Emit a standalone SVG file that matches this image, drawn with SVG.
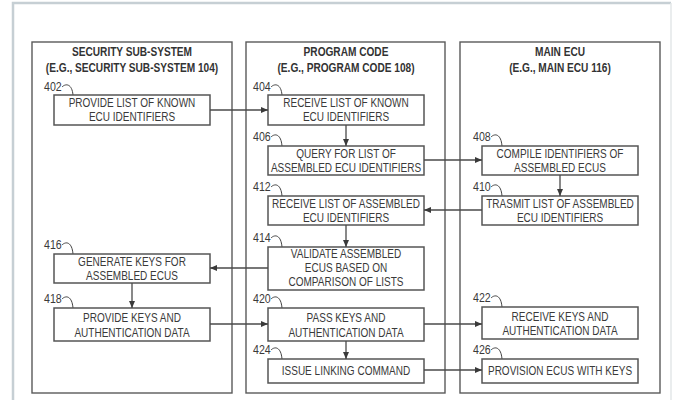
<svg xmlns="http://www.w3.org/2000/svg" width="676" height="400" viewBox="0 0 676 400">
  <style>
    .frame { fill: none; stroke: #c6cfd4; stroke-width: 2.5; }
    .frame-r { fill: none; stroke: #e3e7e9; stroke-width: 1.5; }
    .lane { fill: none; stroke: #5a5a5a; stroke-width: 1.4; }
    .box { fill: #ffffff; stroke: #555555; stroke-width: 1.5; }
    .title { font-family: "Liberation Sans", Arial, sans-serif; font-weight: bold; font-size: 12.5px; fill: #333333; text-anchor: middle; }
    .txt { font-family: "Liberation Sans", Arial, sans-serif; font-size: 12px; fill: #3a3a3a; text-anchor: middle; }
    .num { font-family: "Liberation Sans", Arial, sans-serif; font-size: 12.5px; fill: #3a3a3a; }
    .lead { fill: none; stroke: #444444; stroke-width: 1; }
    .conn { fill: none; stroke: #4a4a4a; stroke-width: 1.3; marker-end: url(#arr); }
  </style>
  <defs>
    <marker id="arr" markerWidth="7" markerHeight="6" refX="7" refY="3" orient="auto" markerUnits="userSpaceOnUse">
      <path d="M0,0 L7,3 L0,6 Z" fill="#3a3a3a"/>
    </marker>
  </defs>

  <rect width="676" height="400" fill="#ffffff"/>
  <!-- page border -->
  <path class="frame" d="M13,400 V3 H671"/>
  <path class="frame-r" d="M671,3 V400"/>

  <!-- swim lanes (condensed lettering via horizontal scale) -->
  <g id="lane-security">
    <rect class="lane" x="32" y="42" width="200" height="351"/>
    <g transform="translate(132 0) scale(.81 1)">
      <text class="title" x="0" y="56">SECURITY SUB-SYSTEM</text>
      <text class="title" x="0" y="72">(E.G., SECURITY SUB-SYSTEM 104)</text>
    </g>
  </g>
  <g id="lane-program">
    <rect class="lane" x="246" y="42" width="199" height="351"/>
    <g transform="translate(346 0) scale(.81 1)">
      <text class="title" x="0" y="56">PROGRAM CODE</text>
      <text class="title" x="0" y="72">(E.G., PROGRAM CODE 108)</text>
    </g>
  </g>
  <g id="lane-main-ecu">
    <rect class="lane" x="460" y="42" width="200" height="351"/>
    <g transform="translate(560 0) scale(.81 1)">
      <text class="title" x="0" y="56">MAIN ECU</text>
      <text class="title" x="0" y="72">(E.G., MAIN ECU 116)</text>
    </g>
  </g>

  <!-- steps -->
  <g id="n402">
    <text class="num" transform="translate(44 91) scale(.85 1)">402</text>
    <path class="lead" d="M62,87 C66,83 72,84 73,95"/>
    <rect class="box" x="54" y="95" width="156" height="30"/>
    <g transform="translate(132 0) scale(.835 1)">
      <text class="txt" x="0" y="107.5">PROVIDE LIST OF KNOWN</text>
      <text class="txt" x="0" y="121.5">ECU IDENTIFIERS</text>
    </g>
  </g>
  <g id="n404">
    <text class="num" transform="translate(253 91) scale(.85 1)">404</text>
    <path class="lead" d="M271,87 C275,83 281,84 282,95"/>
    <rect class="box" x="268" y="95" width="156" height="30"/>
    <g transform="translate(346 0) scale(.835 1)">
      <text class="txt" x="0" y="107.5">RECEIVE LIST OF KNOWN</text>
      <text class="txt" x="0" y="121.5">ECU IDENTIFIERS</text>
    </g>
  </g>
  <g id="n406">
    <text class="num" transform="translate(253 141) scale(.85 1)">406</text>
    <path class="lead" d="M271,137 C275,133 281,134 282,146"/>
    <rect class="box" x="268" y="146" width="156" height="29"/>
    <g transform="translate(346 0) scale(.835 1)">
      <text class="txt" x="0" y="158.5">QUERY FOR LIST OF</text>
      <text class="txt" x="0" y="172">ASSEMBLED ECU IDENTIFIERS</text>
    </g>
  </g>
  <g id="n408">
    <text class="num" transform="translate(473 141) scale(.85 1)">408</text>
    <path class="lead" d="M491,137 C495,133 501,134 502,146"/>
    <rect class="box" x="482" y="146" width="156" height="29"/>
    <g transform="translate(560 0) scale(.835 1)">
      <text class="txt" x="0" y="158.5">COMPILE IDENTIFIERS OF</text>
      <text class="txt" x="0" y="172">ASSEMBLED ECUS</text>
    </g>
  </g>
  <g id="n410">
    <text class="num" transform="translate(473 191) scale(.85 1)">410</text>
    <path class="lead" d="M491,187 C495,183 501,184 502,196"/>
    <rect class="box" x="482" y="196" width="156" height="29"/>
    <g transform="translate(560 0) scale(.835 1)">
      <text class="txt" x="0" y="208.5">TRASMIT LIST OF ASSEMBLED</text>
      <text class="txt" x="0" y="222">ECU IDENTIFIERS</text>
    </g>
  </g>
  <g id="n412">
    <text class="num" transform="translate(253 191) scale(.85 1)">412</text>
    <path class="lead" d="M271,187 C275,183 281,184 282,196"/>
    <rect class="box" x="268" y="196" width="156" height="29"/>
    <g transform="translate(346 0) scale(.835 1)">
      <text class="txt" x="0" y="208.5">RECEIVE LIST OF ASSEMBLED</text>
      <text class="txt" x="0" y="222">ECU IDENTIFIERS</text>
    </g>
  </g>
  <g id="n414">
    <text class="num" transform="translate(253 242) scale(.85 1)">414</text>
    <path class="lead" d="M271,238 C275,234 281,235 282,247"/>
    <rect class="box" x="268" y="247" width="156" height="43"/>
    <g transform="translate(346 0) scale(.835 1)">
      <text class="txt" x="0" y="258.5">VALIDATE ASSEMBLED</text>
      <text class="txt" x="0" y="272.5">ECUS BASED ON</text>
      <text class="txt" x="0" y="286.5">COMPARISON OF LISTS</text>
    </g>
  </g>
  <g id="n416">
    <text class="num" transform="translate(44 249) scale(.85 1)">416</text>
    <path class="lead" d="M62,245 C66,241 72,242 73,254"/>
    <rect class="box" x="54" y="254" width="156" height="29"/>
    <g transform="translate(132 0) scale(.835 1)">
      <text class="txt" x="0" y="266.5">GENERATE KEYS FOR</text>
      <text class="txt" x="0" y="280">ASSEMBLED ECUS</text>
    </g>
  </g>
  <g id="n418">
    <text class="num" transform="translate(44 303) scale(.85 1)">418</text>
    <path class="lead" d="M62,299 C66,295 72,296 73,308"/>
    <rect class="box" x="54" y="308" width="156" height="33"/>
    <g transform="translate(132 0) scale(.835 1)">
      <text class="txt" x="0" y="322">PROVIDE KEYS AND</text>
      <text class="txt" x="0" y="336.5">AUTHENTICATION DATA</text>
    </g>
  </g>
  <g id="n420">
    <text class="num" transform="translate(253 303) scale(.85 1)">420</text>
    <path class="lead" d="M271,299 C275,295 281,296 282,308"/>
    <rect class="box" x="268" y="308" width="156" height="33"/>
    <g transform="translate(346 0) scale(.835 1)">
      <text class="txt" x="0" y="322">PASS KEYS AND</text>
      <text class="txt" x="0" y="336.5">AUTHENTICATION DATA</text>
    </g>
  </g>
  <g id="n422">
    <text class="num" transform="translate(473 302) scale(.85 1)">422</text>
    <path class="lead" d="M491,298 C495,294 501,295 502,307"/>
    <rect class="box" x="482" y="307" width="156" height="32"/>
    <g transform="translate(560 0) scale(.835 1)">
      <text class="txt" x="0" y="321">RECEIVE KEYS AND</text>
      <text class="txt" x="0" y="335.5">AUTHENTICATION DATA</text>
    </g>
  </g>
  <g id="n424">
    <text class="num" transform="translate(253 354) scale(.85 1)">424</text>
    <path class="lead" d="M271,350 C275,346 281,347 282,359"/>
    <rect class="box" x="268" y="359" width="156" height="24"/>
    <g transform="translate(346 0) scale(.835 1)">
      <text class="txt" x="0" y="375.5">ISSUE LINKING COMMAND</text>
    </g>
  </g>
  <g id="n426">
    <text class="num" transform="translate(473 354) scale(.85 1)">426</text>
    <path class="lead" d="M491,350 C495,346 501,347 502,359"/>
    <rect class="box" x="482" y="359" width="156" height="24"/>
    <g transform="translate(560 0) scale(.835 1)">
      <text class="txt" x="0" y="375.5">PROVISION ECUS WITH KEYS</text>
    </g>
  </g>

  <!-- connectors -->
  <g id="connectors">
    <path class="conn" d="M210,110 H268"/>
    <path class="conn" d="M346,125 V146"/>
    <path class="conn" d="M424,160 H482"/>
    <path class="conn" d="M560,175 V196"/>
    <path class="conn" d="M482,210 H424"/>
    <path class="conn" d="M346,225 V247"/>
    <path class="conn" d="M268,268 H210"/>
    <path class="conn" d="M132,283 V308"/>
    <path class="conn" d="M210,324 H268"/>
    <path class="conn" d="M424,324 H482"/>
    <path class="conn" d="M346,341 V359"/>
    <path class="conn" d="M424,370 H482"/>
  </g>
</svg>
